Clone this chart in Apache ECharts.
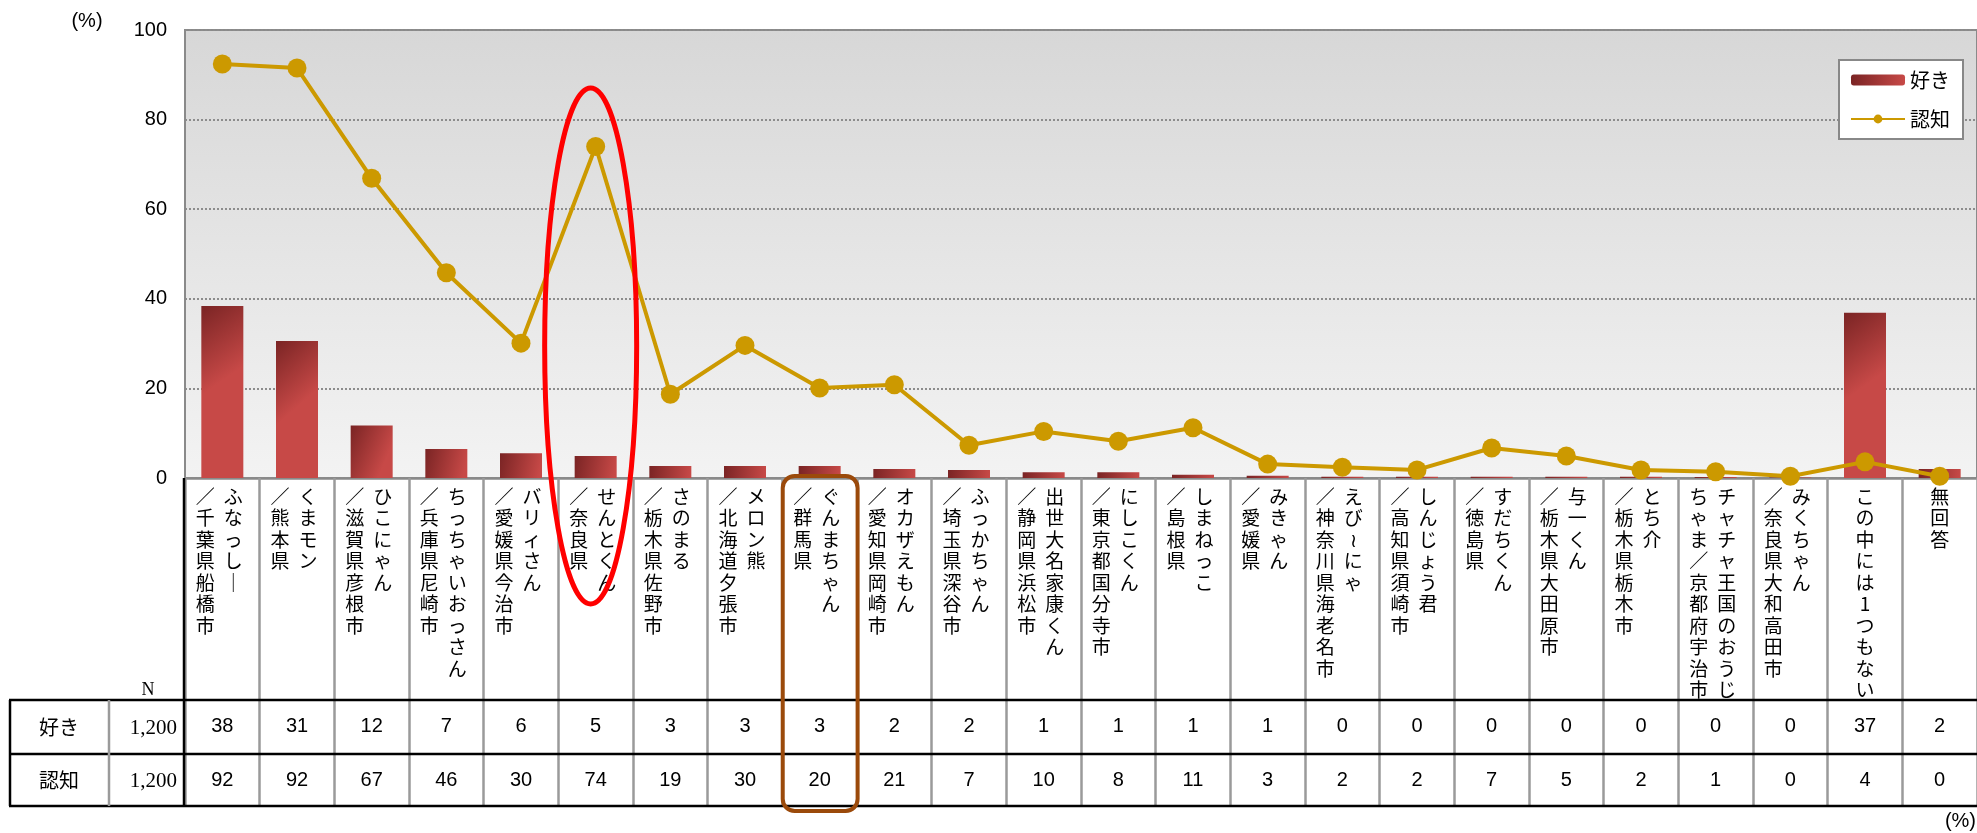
<!DOCTYPE html>
<html><head><meta charset="utf-8">
<script src="https://cdn.jsdelivr.net/npm/echarts@6/dist/echarts.min.js"></script>
<style>html,body{margin:0;padding:0;background:#fff}#c{width:1977px;height:833px}</style>
</head><body><div id="c"></div>
<script>
// ---- data ----
const names = ['ふなっしー','くまモン','ひこにゃん','ちっちゃいおっさん','バリィさん','せんとくん','さのまる','メロン熊','ぐんまちゃん','オカザえもん','ふっかちゃん','出世大名家康くん','にしこくん','しまねっこ','みきゃん','えび~にゃ','しんじょう君','すだちくん','与一くん','とち介','チャチャ王国のおうじちゃま','みくちゃん','この中には1つもない','無回答'];
const places = ['千葉県船橋市','熊本県','滋賀県彦根市','兵庫県尼崎市','愛媛県今治市','奈良県','栃木県佐野市','北海道夕張市','群馬県','愛知県岡崎市','埼玉県深谷市','静岡県浜松市','東京都国分寺市','島根県','愛媛県','神奈川県海老名市','高知県須崎市','徳島県','栃木県大田原市','栃木県栃木市','京都府宇治市','奈良県大和高田市','',''];
const likeValues  = [38.4,30.6,11.7,6.5,5.5,4.9,2.7,2.7,2.7,2.0,1.8,1.3,1.3,0.7,0.5,0.3,0.3,0.3,0.3,0.3,0.2,0.1,36.9,2.0];
const awareValues = [92.4,91.5,66.9,45.8,30.1,74.0,18.7,29.6,20.1,20.8,7.3,10.4,8.2,11.2,3.1,2.4,1.8,6.7,4.9,1.8,1.4,0.4,3.6,0.4];
const seriesNames = ['好き','認知'];
const sampleN = ['1,200','1,200'];
const yMin = 0, yMax = 100, yStep = 20;
const highlightRed = 'せんとくん';
const highlightBrown = 'ぐんまちゃん';

// ---- helpers ----
const vert = s => Array.from(s).map(ch => ch === 'ー' ? '｜' : (ch === '~' ? '≀' : ch)).join('\n');
const colName = [], colPlace = [], colSingle = [];
names.forEach((n, i) => {
  if (!places[i]) { colName.push(''); colPlace.push(''); colSingle.push(n); }
  else if (n.length > 10) { colName.push(n.slice(0, 10)); colPlace.push(n.slice(10) + '／' + places[i]); colSingle.push(''); }
  else { colName.push(n); colPlace.push('／' + places[i]); colSingle.push(''); }
});

const JP = '"Noto Sans CJK JP", sans-serif';
const SANS = '"Liberation Sans", Arial, sans-serif';
const SERIF = '"Liberation Serif", "DejaVu Serif", serif';

const chart = echarts.init(document.getElementById('c'));
const GRID = { left: 185, top: 30, width: 1797, height: 448 };

function labelAxis(formatter, extra) {
  return {
    type: 'category', data: names, gridIndex: 0, position: 'bottom',
    axisLine: { show: false }, axisTick: { show: false }, splitLine: { show: false },
    axisLabel: Object.assign({
      interval: 0, formatter: formatter, color: '#000', fontFamily: JP, fontSize: 19,
      lineHeight: 21.5, verticalAlign: 'top', align: 'center', margin: 8
    }, extra || {})
  };
}

const option = {
  animation: false,
  backgroundColor: '#fff',
  grid: Object.assign({
    show: true, borderWidth: 2, borderColor: '#8a8a8a',
    backgroundColor: new echarts.graphic.LinearGradient(0, 0, 0, 1, [
      { offset: 0, color: '#d7d7d7' }, { offset: 1, color: '#f3f3f3' }
    ])
  }, GRID),
  legend: {
    data: seriesNames, orient: 'vertical', right: 14, top: 60,
    itemWidth: 54, itemHeight: 11, itemGap: 19,
    padding: [10, 13, 10, 11],
    backgroundColor: '#fff', borderColor: '#888', borderWidth: 2,
    textStyle: { fontSize: 20, fontFamily: JP, color: '#000' }
  },
  xAxis: [
    Object.assign(labelAxis((v, i) => vert(colName[i]), { padding: [0, 0, 0, 22] }), {
      axisLine: { show: true, lineStyle: { color: '#8a8a8a', width: 2.5 } },
      axisTick: { show: true, interval: 0, length: 328, lineStyle: { color: '#9a9a9a', width: 2.5 } }
    }),
    labelAxis((v, i) => vert(colPlace[i]), { padding: [0, 34, 0, 0] }),
    labelAxis((v, i) => vert(colSingle[i])),
    labelAxis((v, i) => String(Math.round(likeValues[i])), { fontFamily: SANS, fontSize: 20, verticalAlign: 'middle', margin: 248, lineHeight: 22 }),
    labelAxis((v, i) => String(Math.round(awareValues[i])), { fontFamily: SANS, fontSize: 20, verticalAlign: 'middle', margin: 302, lineHeight: 22 })
  ],
  yAxis: {
    type: 'value', min: yMin, max: yMax, interval: yStep,
    axisLine: { show: true, lineStyle: { color: '#8a8a8a', width: 2 } },
    axisTick: { show: false },
    axisLabel: { fontSize: 20, fontFamily: SANS, color: '#000', margin: 18 },
    splitLine: { show: true, lineStyle: { color: '#8c8c8c', width: 2, type: 'dotted' } }
  },
  series: [
    {
      name: seriesNames[0], type: 'bar', xAxisIndex: 0, data: likeValues, barWidth: 42, z: 2,
      itemStyle: {
        color: new echarts.graphic.LinearGradient(0, 0, 1, 0.35, [
          { offset: 0, color: '#7a2424' }, { offset: 1, color: '#c74947' }
        ])
      }
    },
    {
      name: seriesNames[1], type: 'line', xAxisIndex: 0, data: awareValues, z: 3,
      symbol: 'circle', symbolSize: 19,
      lineStyle: { color: '#cc9900', width: 4 },
      itemStyle: { color: '#cc9900' }
    }
  ]
};
chart.setOption(option);

// ---- table frame + annotations ----
const xR = chart.convertToPixel({ xAxisIndex: 0 }, highlightRed);
const xB = chart.convertToPixel({ xAxisIndex: 0 }, highlightBrown);
const band = GRID.width / names.length;
const y0 = GRID.top + GRID.height;
const tTop = 700, tMid = 754, tBot = 806;
const blk = { stroke: '#000', lineWidth: 2.5 };
const g = [];
[tTop, tMid, tBot].forEach(y => g.push({ type: 'line', z: 50, shape: { x1: 9, y1: y, x2: 1977, y2: y }, style: blk }));
g.push({ type: 'line', z: 50, shape: { x1: 10, y1: tTop, x2: 10, y2: tBot }, style: blk });
g.push({ type: 'line', z: 50, shape: { x1: 109, y1: tTop, x2: 109, y2: tBot }, style: { stroke: '#9a9a9a', lineWidth: 2.5 } });
g.push({ type: 'line', z: 50, shape: { x1: GRID.left - 1, y1: y0, x2: GRID.left - 1, y2: tBot }, style: blk });
g.push({ type: 'text', z: 50, x: 148, y: 690, style: { text: 'N', fontFamily: SERIF, fontSize: 18, fill: '#000', align: 'center', verticalAlign: 'middle' } });
seriesNames.forEach((s, k) => {
  const cy = k === 0 ? (tTop + tMid) / 2 : (tMid + tBot) / 2;
  g.push({ type: 'text', z: 50, x: 59, y: cy, style: { text: s, fontFamily: JP, fontSize: 20, fill: '#000', align: 'center', verticalAlign: 'middle' } });
  g.push({ type: 'text', z: 50, x: 177, y: cy + 1, style: { text: sampleN[k], fontFamily: SERIF, fontSize: 21, fill: '#000', align: 'right', verticalAlign: 'middle' } });
});
g.push({ type: 'text', z: 50, x: 87, y: 21, style: { text: '(%)', fontFamily: SANS, fontSize: 20, fill: '#000', align: 'center', verticalAlign: 'middle' } });
g.push({ type: 'text', z: 50, x: 1976, y: 821, style: { text: '(%)', fontFamily: SANS, fontSize: 20, fill: '#000', align: 'right', verticalAlign: 'middle' } });
g.push({ type: 'ellipse', z: 60, shape: { cx: xR - 5, cy: 346, rx: 46, ry: 258 }, style: { fill: 'none', stroke: '#ff0000', lineWidth: 5 } });
g.push({ type: 'rect', z: 60, shape: { x: xB - band / 2 + 0.5, y: 476, width: band, height: 335, r: 12 }, style: { fill: 'none', stroke: '#9b4a0b', lineWidth: 4 } });
chart.setOption({ graphic: g });
</script></body></html>
